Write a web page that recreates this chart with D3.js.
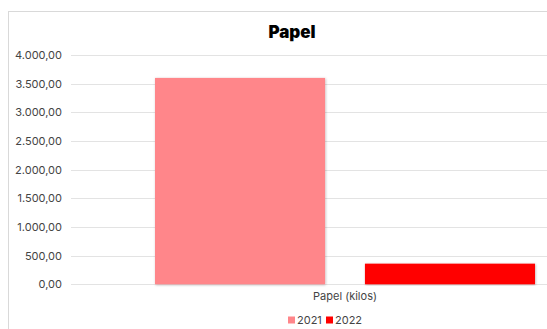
<!DOCTYPE html>
<html>
<head>
<meta charset="utf-8">
<script src="https://cdn.jsdelivr.net/npm/d3@7"></script>
<style>
  html, body { margin: 0; padding: 0; background: #fff; }
  svg { display: block; font-family: Inter, "Noto Sans", sans-serif; }
</style>
</head>
<body>
<svg id="chart" width="547" height="329"></svg>
<script>
// Paper collected, in kilos, per year
const categories = ["Papel (kilos)"];
const seriesNames = ["2021", "2022"];
const values2021 = [3600];
const values2022 = [360];
const seriesColors = ["#FF868A", "#FF0000"];
const yTicks = [0, 500, 1000, 1500, 2000, 2500, 3000, 3500, 4000];

const svg = d3.select("#chart");

// outer chart frame
svg.append("rect")
  .attr("x", 8.5).attr("y", 11.5)
  .attr("width", 600).attr("height", 400)
  .attr("fill", "#fff")
  .attr("stroke", "#d9d9d9").attr("stroke-width", 1);

const defs = svg.append("defs");
const f = defs.append("filter").attr("id", "shadow")
  .attr("x", "-5%").attr("y", "-5%").attr("width", "110%").attr("height", "110%");
f.append("feDropShadow").attr("dx", 0.6).attr("dy", 0.6).attr("stdDeviation", 0.8)
  .attr("flood-color", "#000").attr("flood-opacity", 0.3);

const plotLeft = 71, plotRight = 619, plotTop = 55, plotBottom = 284.3;

const y = d3.scaleLinear().domain([0, 4000]).range([plotBottom, plotTop]);
const x0 = d3.scaleBand().domain(categories).range([plotLeft, plotRight])
  .paddingInner(0).paddingOuter(0.221);
const x1 = d3.scaleBand().domain(seriesNames).range([0, x0.bandwidth()])
  .paddingInner(0.19).paddingOuter(0);
const color = d3.scaleOrdinal().domain(seriesNames).range(seriesColors);

const locale = d3.formatLocale({ decimal: ",", thousands: ".", grouping: [3], currency: ["", ""] });
const fmt = locale.format(",.2f");

// gridlines
svg.append("g")
  .selectAll("line").data(yTicks).join("line")
  .attr("x1", plotLeft).attr("x2", plotRight)
  .attr("y1", d => Math.round(y(d)) + 0.5).attr("y2", d => Math.round(y(d)) + 0.5)
  .attr("stroke", "#e3e3e3").attr("stroke-width", 1);

// y axis labels
const yAxis = d3.axisLeft(y).tickValues(yTicks).tickFormat(fmt).tickSize(0).tickPadding(0);
const gy = svg.append("g").attr("transform", `translate(${plotLeft - 9},0)`).call(yAxis);
gy.select(".domain").remove();
gy.selectAll("text").attr("fill", "#444").style("font-size", "11px")
  .style("font-family", "Inter, 'Noto Sans', sans-serif");

// bars
const rows = categories.map((c, i) => ({ cat: c, vals: [values2021[i], values2022[i]] }));
const groups = svg.append("g").selectAll("g").data(rows).join("g")
  .attr("transform", d => `translate(${x0(d.cat)},0)`);
groups.selectAll("rect")
  .data(d => seriesNames.map((s, j) => ({ s, v: d.vals[j] })))
  .join("rect")
  .attr("x", d => x1(d.s))
  .attr("width", x1.bandwidth())
  .attr("y", d => y(d.v))
  .attr("height", d => y(0) - y(d.v))
  .attr("fill", d => color(d.s))
  .attr("filter", "url(#shadow)");

// category label
const xAxis = d3.axisBottom(x0).tickSize(0).tickPadding(0);
const gx = svg.append("g").attr("transform", `translate(0,${plotBottom + 8})`).call(xAxis);
gx.select(".domain").remove();
gx.selectAll("text").attr("fill", "#444").style("font-size", "11px")
  .style("font-family", "Inter, 'Noto Sans', sans-serif");

// title
svg.append("text")
  .attr("x", 292).attr("y", 38)
  .attr("text-anchor", "middle")
  .attr("font-size", "17px").attr("font-weight", 900)
  .attr("fill", "#000")
  .text("Papel");

// legend
const legend = svg.append("g").attr("transform", "translate(288,320)");
const items = legend.selectAll("g").data(seriesNames).join("g")
  .attr("transform", (d, i) => `translate(${i * 38},0)`);
items.append("rect")
  .attr("x", 0).attr("y", -3.5).attr("width", 7).attr("height", 7)
  .attr("fill", d => color(d));
items.append("text")
  .attr("x", 9).attr("y", 0).attr("dy", "0.35em")
  .attr("font-size", "11px").attr("fill", "#444")
  .text(d => d);
</script>
</body>
</html>
